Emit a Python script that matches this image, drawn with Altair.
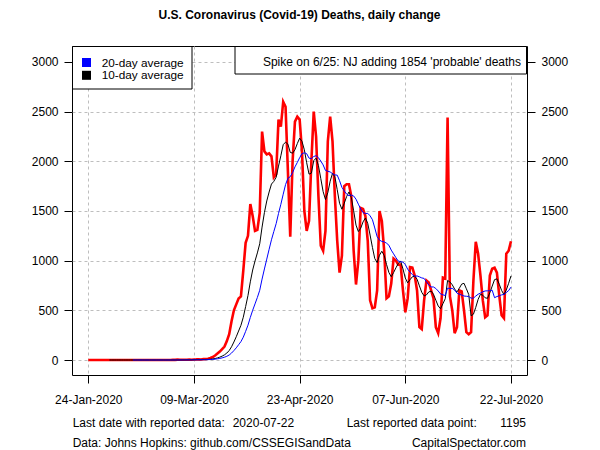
import altair as alt
import pandas as pd

FONT = "Liberation Sans, Arial, Helvetica, sans-serif"

# ---------------- data ----------------
start_date = "2020-01-24"
deaths_jan = [0, 0, 0, 0, 0, 0, 0, 0]
deaths_feb = [0, 0, 0, 0, 0, 0, 0, 0, 0, 0, 0, 0, 0, 0, 0, 0, 0, 0, 0, 0,
              0, 0, 0, 0, 0, 0, 0, 0, 1]
deaths_mar = [1, 4, 2, 3, 2, 3, 4, 2, 5, 6, 8, 5, 9, 10, 12, 20, 30, 45, 65, 85,
              110, 135, 190, 260, 390, 500, 560, 620, 640, 900, 1180]
deaths_apr = [1250, 1570, 1450, 1300, 1310, 1480, 2300, 2100, 2070, 2080,
              2050, 1840, 1870, 2420, 2350, 2600, 2550, 1900, 1240, 2000,
              2400, 2450, 2420, 2100, 1500, 1300, 1400, 2000, 2500, 2250]
deaths_may = [1650, 1150, 1100, 1300, 2200, 2450, 2200, 1650, 1200, 880,
              1050, 1750, 1770, 1770, 1650, 1100, 760, 1000, 1530, 1520,
              1450, 1200, 600, 520, 530, 700, 1500, 1400, 1100, 620, 640]
deaths_jun = [770, 1020, 1000, 960, 960, 700, 480, 620, 935, 930,
              850, 700, 330, 310, 600, 800, 780, 700, 620, 330,
              270, 420, 830, 820, 2440, 640, 500, 270, 330, 700]
deaths_jul = [690, 500, 280, 260, 280, 800, 1190, 1070, 850, 600,
              430, 450, 850, 920, 930, 880, 650, 450, 420, 1070,
              1100, 1195]

deaths = deaths_jan + deaths_feb + deaths_mar + deaths_apr + deaths_may + deaths_jun + deaths_jul
dates = pd.date_range(start_date, periods=len(deaths), freq="D").strftime("%Y-%m-%d").tolist()

tick_dates = ["2020-01-24", "2020-03-09", "2020-04-23", "2020-06-07", "2020-07-22"]
y_ticks = [0, 500, 1000, 1500, 2000, 2500, 3000]
x_domain = ["2020-01-17 01:26", "2020-07-28 19:40"]
y_domain = [-151, 3161]

legend_labels = ["20-day average", "10-day average"]
legend_colors = ["blue", "black"]
title_text = "U.S. Coronavirus (Covid-19) Deaths, daily change"
note_text = "Spike on 6/25: NJ adding 1854 'probable' deaths"
footer_left = ["Last date with reported data:", "Data: Johns Hopkins: github.com/CSSEGISandData"]
footer_date = "2020-07-22"
footer_point_label = "Last reported data point:"
footer_point_value = "1195"
footer_site = "CapitalSpectator.com"

df = pd.DataFrame({"date": dates, "deaths": deaths})


def dt(s):
    ts = pd.Timestamp(s)
    return alt.DateTime(year=ts.year, month=ts.month, date=ts.day,
                        hours=ts.hour, minutes=ts.minute, utc=True)


W, H = 455, 329
GRID = dict(grid=True, gridDash=[3, 3], gridColor="#BEBEBE", gridWidth=1)
AX = dict(domain=False, tickSize=8, tickColor="black", labelColor="black",
          labelFont=FONT, labelFontSize=12, title=None, labelOverlap=False)

x_axis = alt.Axis(values=[dt(d) for d in tick_dates], format="%d-%b-%Y",
                  labelPadding=11, labelFlush=False, **GRID, **AX)
x_enc = alt.X("date:T", scale=alt.Scale(type="utc", domain=[dt(d) for d in x_domain]),
              axis=x_axis)
y_scale = alt.Scale(domain=y_domain, nice=False, zero=False)
y_left = alt.Axis(values=y_ticks, orient="left", format="d", labelPadding=6, **GRID, **AX)
y_right = alt.Axis(values=y_ticks, orient="right", format="d", labelPadding=6, grid=False, **AX)

base = alt.Chart(df)

red = base.mark_line(color="red", strokeWidth=2.6, clip=True).encode(
    x=x_enc, y=alt.Y("deaths:Q", scale=y_scale, axis=y_left))

black = base.transform_window(
    avg10="mean(deaths)", n10="count()", frame=[-9, 0], sort=[alt.SortField("date")]
).transform_filter("datum.n10 >= 10").mark_line(color="black", strokeWidth=1, clip=True).encode(
    x=x_enc, y=alt.Y("avg10:Q", scale=y_scale, axis=None))

blue = base.transform_window(
    avg20="mean(deaths)", n20="count()", frame=[-19, 0], sort=[alt.SortField("date")]
).transform_filter("datum.n20 >= 20").mark_line(color="blue", strokeWidth=1, clip=True).encode(
    x=x_enc, y=alt.Y("avg20:Q", scale=y_scale, axis=y_right))

one = pd.DataFrame({"k": [0]})


def box(x0, x1, y0, y1):
    return alt.Chart(one).mark_rect(fill="white", stroke="black", strokeWidth=1).encode(
        x=alt.value(x0), x2=alt.value(x1), y=alt.value(y0), y2=alt.value(y1))


def label(text, x, y, align="left", bold=False, size=12):
    return alt.Chart(pd.DataFrame({"t": [text]})).mark_text(
        align=align, baseline="middle", font=FONT, fontSize=size, color="black",
        fontWeight="bold" if bold else "normal").encode(
        x=alt.value(x), y=alt.value(y), text="t:N")


layers = [red, black, blue,
          box(0.5, 120, 0.5, 43), box(163, 454.5, 0.5, 28)]

for i, (lab, col) in enumerate(zip(legend_labels, legend_colors)):
    yy = 16.5 + i * 12.8
    layers.append(alt.Chart(one).mark_rect(fill=col).encode(
        x=alt.value(10), x2=alt.value(19), y=alt.value(yy - 4.5), y2=alt.value(yy + 4.5)))
    layers.append(label(lab, 29.7, yy, size=11.8))

layers += [
    label(note_text, 449, 16.3, align="right"),
    label(title_text, 227.5, -31, align="center", bold=True),
    label(footer_left[0], 0.7, 376.7),
    label(footer_date, 160.7, 376.7),
    label(footer_point_label, 274.7, 376.7),
    label(footer_point_value, 454, 376.7, align="right"),
    label(footer_left[1], 0.7, 397.3),
    label(footer_site, 454, 397.3, align="right"),
]

chart = alt.layer(*layers).resolve_scale(y="independent").properties(
    width=W, height=H, autosize="none",
    padding={"left": 64, "top": 38, "right": 65, "bottom": 75},
    background="white",
).configure_view(stroke="black", strokeWidth=1)

chart.save("out.html", embed_options={"renderer": "svg", "actions": False})
